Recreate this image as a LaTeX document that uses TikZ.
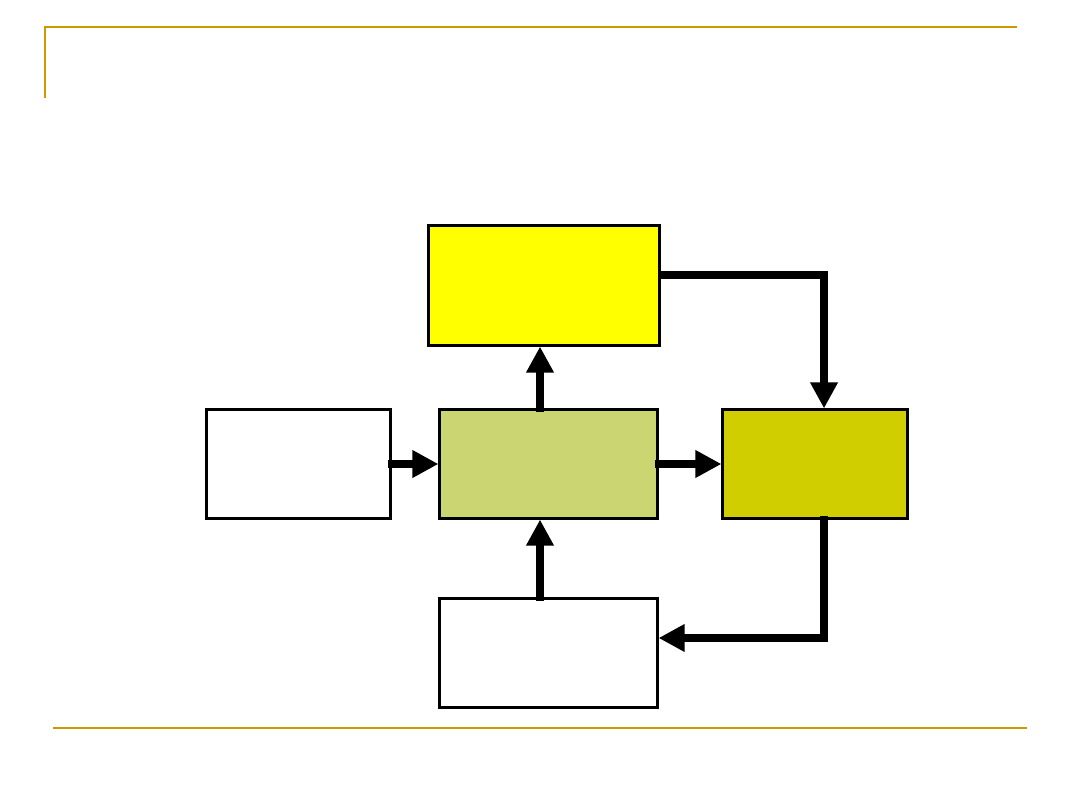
\documentclass[tikz,border=0pt]{standalone}
\usepackage{tikz}
\usetikzlibrary{
  positioning,
  calc,
  arrows.meta
}
\definecolor{frameclr}{HTML}{CC9900}
\definecolor{planclr}{HTML}{FFFF00}
\definecolor{coreclr}{HTML}{CBD673}
\definecolor{outclr}{HTML}{D0CE00}

\begin{document}
\begin{tikzpicture}[
    x=0.01cm, y=-0.01cm,
    block/.style={draw=black, line width=0.03cm, inner sep=0pt,
                  minimum width=#1, minimum height=1.08cm},
    block/.default=1.83cm,
    arr/.style={line width=0.08cm, line cap=butt, line join=miter,
                -{Triangle[length=0.26cm, width=0.26cm]}},
    frame/.style={draw=frameclr, line width=0.015cm},
  ]
  \useasboundingbox (0,0) rectangle (1080,810);

  % slide frame
  \draw[frame] (45,98) -- (45,27) -- (1017,27);
  \draw[frame] (53,728) -- (1027,728);

  % blocks
  \node[block=2.30cm, minimum height=1.19cm, fill=planclr] (plan) at (544,285.5) {};
  \node[block, fill=white]        (in)   at (298.5,464) {};
  \node[block=2.17cm, fill=coreclr] (core) at (548.5,464) {};
  \node[block=1.84cm, fill=outclr]  (out)  at (815,464) {};
  \node[block=2.17cm, fill=white]   (fb)   at (548.5,653) {};

  % connectors
  \draw[arr] ([xshift=-0.04cm]in.east) -- (core.west);
  \draw[arr] ([xshift=-0.04cm]core.east) -- (out.west);

  \coordinate (up1) at ([xshift=-0.085cm,yshift=-0.04cm]core.north);
  \draw[arr] (up1) -- (up1 |- plan.south);
  \coordinate (up2) at ([xshift=-0.085cm,yshift=-0.04cm]fb.north);
  \draw[arr] (up2) -- (up2 |- core.south);

  \draw[arr] ([yshift=0.105cm]plan.east) -| ([xshift=0.09cm]out.north);
  \draw[arr] ([xshift=0.09cm,yshift=0.04cm]out.south) |- ([yshift=0.15cm]fb.east);
\end{tikzpicture}
\end{document}
